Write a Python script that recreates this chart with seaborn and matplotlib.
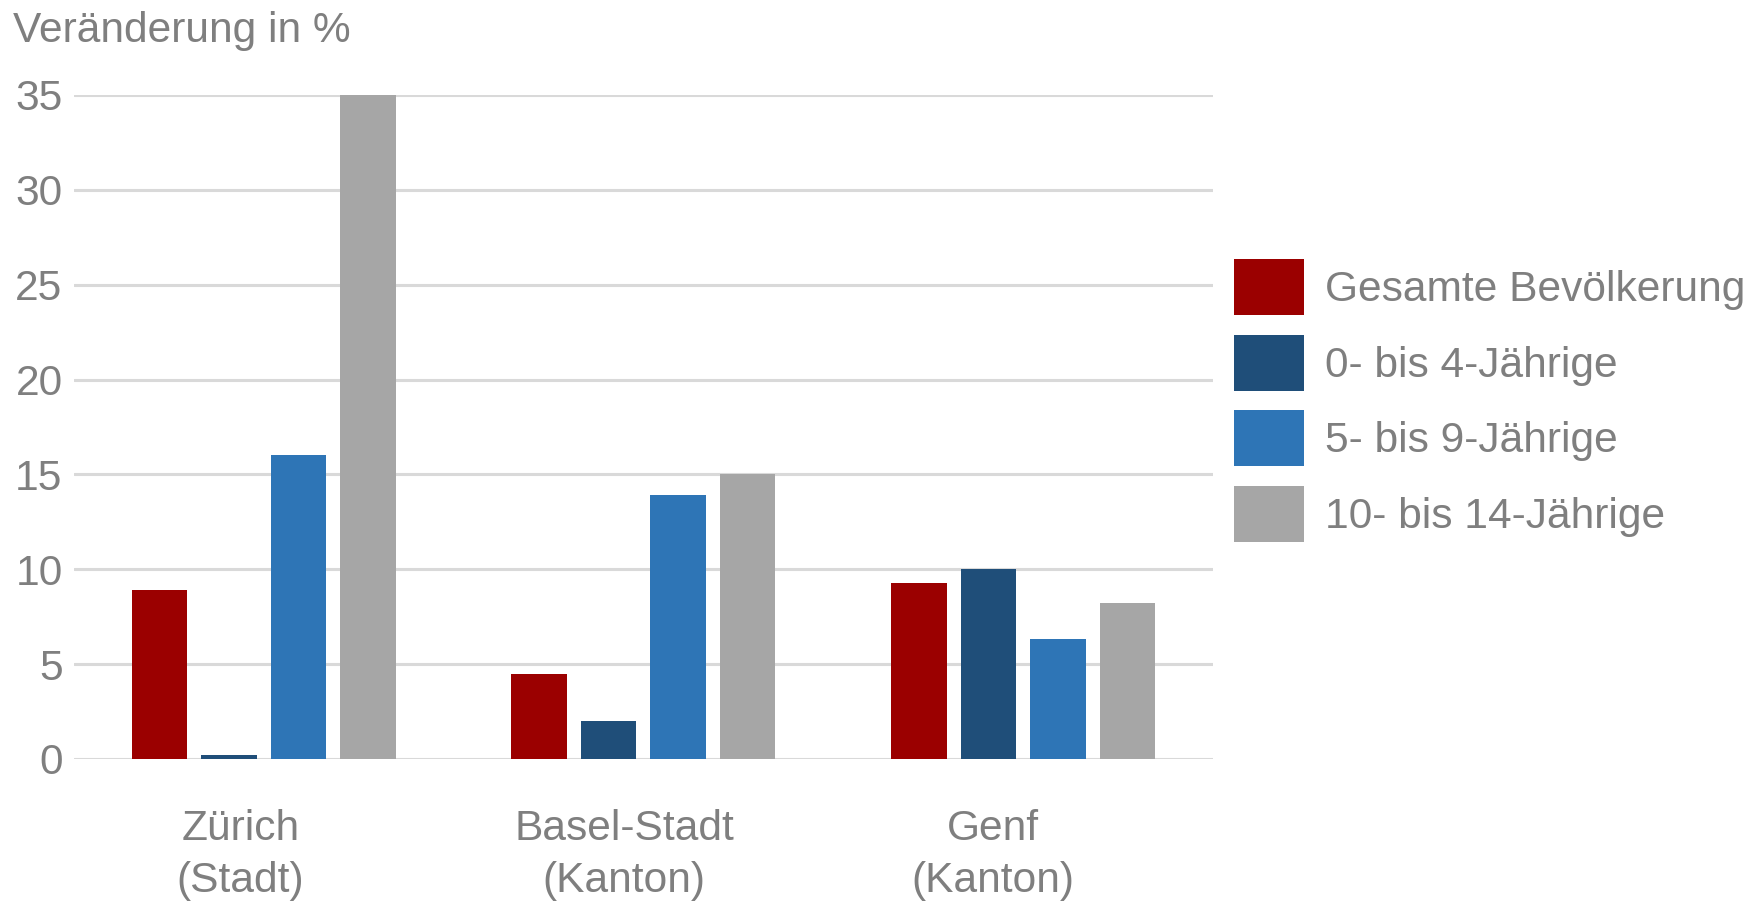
import pandas as pd
import seaborn as sns
import matplotlib.pyplot as plt
from matplotlib.transforms import ScaledTranslation

# --- data ---
regions = ["Zürich\n(Stadt)", "Basel-Stadt\n(Kanton)", "Genf\n(Kanton)"]
groups = ["Gesamte Bevölkerung", "0- bis 4-Jährige", "5- bis 9-Jährige", "10- bis 14-Jährige"]
gesamt = [8.9, 4.5, 9.3]
alter_0_4 = [0.2, 2.0, 10.0]
alter_5_9 = [16.0, 13.9, 6.3]
alter_10_14 = [35.0, 15.0, 8.2]
yticks = [0, 5, 10, 15, 20, 25, 30, 35]

colors = ["#9b0000", "#1f4e79", "#2e75b6", "#a6a6a6"]
text_color = "#7f7f7f"
grid_color = "#d9d9d9"
fs = 30.6
# the category labels sit a little left of the bar groups in the original
label_shift_px = [-23, -19, -30]

df = pd.DataFrame({
    "region": regions * 4,
    "group": [g for g in groups for _ in regions],
    "value": gesamt + alter_0_4 + alter_5_9 + alter_10_14,
})

sns.set_theme(style="white")
plt.rcParams["font.family"] = ["Liberation Sans", "DejaVu Sans"]

fig = plt.figure(figsize=(17.5, 9.01), dpi=100)
ax = fig.add_axes([73.7 / 1750, 1 - 759 / 901, (1213 - 73.7) / 1750, (759 - 95) / 901])

sns.barplot(data=df, x="region", y="value", hue="group", order=regions, hue_order=groups,
            palette=colors, width=0.732, gap=0.2, linewidth=0, saturation=1, ax=ax)

ax.set_xlim(-0.5, 2.5)
ax.set_ylim(0, 35)
ax.set_yticks(yticks)
ax.set_xlabel("")
ax.set_ylabel("")
ax.set_axisbelow(True)
ax.yaxis.grid(True, color=grid_color, linewidth=2.2)
ax.xaxis.grid(False)
for s in ax.spines.values():
    s.set_visible(False)
ax.tick_params(axis="y", length=0, pad=8, labelsize=fs, labelcolor=text_color)
ax.tick_params(axis="x", length=0, pad=36, labelsize=fs, labelcolor=text_color)
for lbl, dx in zip(ax.get_xticklabels(), label_shift_px):
    lbl.set_linespacing(1.4)
    lbl.set_transform(lbl.get_transform() + ScaledTranslation(dx / 100, 0, fig.dpi_scale_trans))

fig.text(13.4 / 1750, 1 - 42 / 901, "Veränderung in %", fontsize=fs, color=text_color,
         ha="left", va="baseline")

ax.legend(loc="upper left", bbox_to_anchor=(1234 / 1750, 1 - 259.4 / 901),
          bbox_transform=fig.transFigure, frameon=False, fontsize=fs,
          labelcolor=text_color, handlelength=1.64, handleheight=1.65,
          handletextpad=0.5, labelspacing=0.46, borderpad=0, borderaxespad=0)

plt.savefig("out.png", dpi=100)
